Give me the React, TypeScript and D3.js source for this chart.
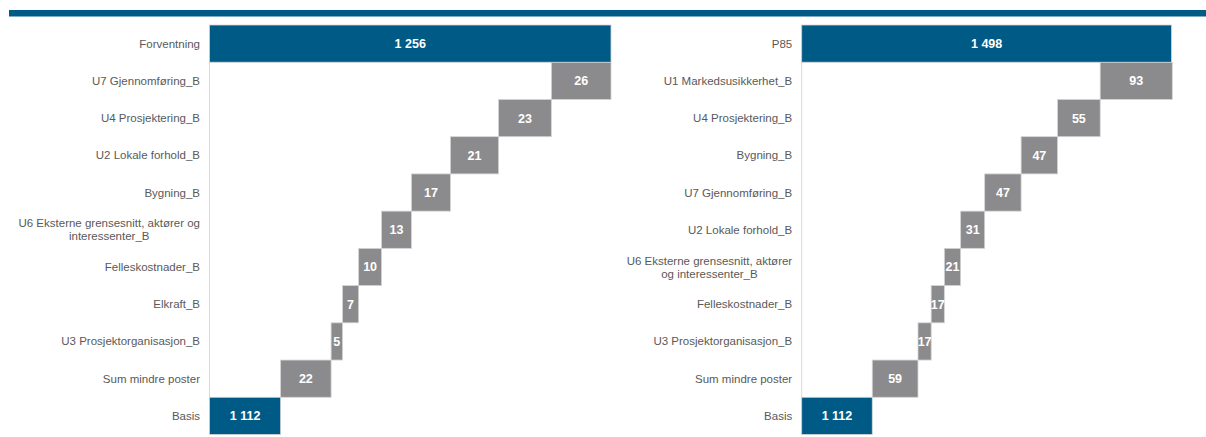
import React from "react";
import * as d3 from "d3";

const leftCategories = [
  "Forventning",
  "U7 Gjennomføring_B",
  "U4 Prosjektering_B",
  "U2 Lokale forhold_B",
  "Bygning_B",
  "U6 Eksterne grensesnitt, aktører og interessenter_B",
  "Felleskostnader_B",
  "Elkraft_B",
  "U3 Prosjektorganisasjon_B",
  "Sum mindre poster",
  "Basis",
];
const leftValues = [1256, 26, 23, 21, 17, 13, 10, 7, 5, 22, 1112];

const rightCategories = [
  "P85",
  "U1 Markedsusikkerhet_B",
  "U4 Prosjektering_B",
  "Bygning_B",
  "U7 Gjennomføring_B",
  "U2 Lokale forhold_B",
  "U6 Eksterne grensesnitt, aktører og interessenter_B",
  "Felleskostnader_B",
  "U3 Prosjektorganisasjon_B",
  "Sum mindre poster",
  "Basis",
];
const rightValues = [1498, 93, 55, 47, 47, 31, 21, 17, 17, 59, 1112];

const BLUE = "#005a86";
const GREY = "#8b8b8d";
const LABEL_FONT = "11.5px 'Liberation Sans', Arial, sans-serif";

let ctx: CanvasRenderingContext2D | null = null;
function measure(t: string): number {
  if (!ctx) {
    const c = document.createElement("canvas");
    ctx = c.getContext("2d");
  }
  if (!ctx) return t.length * 6;
  ctx.font = LABEL_FONT;
  return ctx.measureText(t).width;
}

function wrap(text: string, maxW: number): string[] {
  const words = text.split(" ");
  const lines: string[] = [];
  let cur = "";
  for (const w of words) {
    const test = cur ? cur + " " + w : w;
    if (cur && measure(test) > maxW) {
      lines.push(cur);
      cur = w;
    } else cur = test;
  }
  if (cur) lines.push(cur);
  return lines;
}

const fmt = (v: number) => d3.format(",")(v).replace(/,/g, " ");

type PanelProps = {
  categories: string[];
  values: number[];
  domainMin: number;
  domainMax: number;
  x0: number;
  x1: number;
  wrapWidth: number;
};

function Panel({ categories, values, domainMin, domainMax, x0, x1, wrapWidth }: PanelProps) {
  const x = d3.scaleLinear().domain([domainMin, domainMax]).range([x0, x1]);
  const y = d3.scaleBand<string>().domain(categories).range([25, 434.5]).padding(0);
  const n = categories.length;
  // waterfall: bottom is base, top is total
  const segs: { cat: string; from: number; to: number; v: number; total: boolean }[] = [];
  let cum = values[n - 1];
  segs.push({ cat: categories[n - 1], from: domainMin, to: cum, v: values[n - 1], total: true });
  for (let i = n - 2; i >= 1; i--) {
    segs.push({ cat: categories[i], from: cum, to: cum + values[i], v: values[i], total: false });
    cum += values[i];
  }
  segs.push({ cat: categories[0], from: domainMin, to: values[0], v: values[0], total: true });
  const bw = y.bandwidth();
  return (
    <g>
      <line x1={x0} x2={x0} y1={25} y2={434.5} stroke="#d9d9d9" strokeWidth={1} />
      {segs.map((s, i) => {
        const xa = x(s.from);
        const xb = x(s.to);
        const yy = y(s.cat) as number;
        return (
          <g key={i}>
            <rect
              x={xa}
              y={yy}
              width={xb - xa}
              height={bw}
              fill={s.total ? BLUE : GREY}
              stroke="#d4d4d4"
              strokeWidth={0.8}
            />
            <text
              x={(xa + xb) / 2}
              y={yy + bw / 2}
              dy="0.36em"
              textAnchor="middle"
              fill="#fff"
              fontWeight="bold"
              fontSize={12.5}
              fontFamily="'Liberation Sans', Arial, sans-serif"
            >
              {fmt(s.v)}
            </text>
          </g>
        );
      })}
      {categories.map((c, i) => {
        const lines = wrap(c, wrapWidth);
        const maxW = Math.max(...lines.map(measure));
        const right = x0 - 9.5;
        const cx = lines.length > 1 ? right - maxW / 2 : right;
        const yc = (y(c) as number) + bw / 2;
        const lh = 13;
        return (
          <text
            key={i}
            textAnchor={lines.length > 1 ? "middle" : "end"}
            fill="#595959"
            fontSize={11.5}
            fontFamily="'Liberation Sans', Arial, sans-serif"
          >
            {lines.map((l, j) => (
              <tspan key={j} x={cx} y={yc + (j - (lines.length - 1) / 2) * lh} dy="0.35em">
                {l}
              </tspan>
            ))}
          </text>
        );
      })}
    </g>
  );
}

export default function App() {
  return (
    <svg
      width={1206}
      height={437}
      style={{ position: "absolute", left: 0, top: 0, background: "#fff" }}
    >
      <rect x={9} y={10} width={1197} height={6.5} fill={BLUE} />
      <Panel
        categories={leftCategories}
        values={leftValues}
        domainMin={1081}
        domainMax={1256}
        x0={209.5}
        x1={611}
        wrapWidth={192}
      />
      <Panel
        categories={rightCategories}
        values={rightValues}
        domainMin={1021}
        domainMax={1499}
        x0={801.7}
        x1={1172.3}
        wrapWidth={172}
      />
    </svg>
  );
}
